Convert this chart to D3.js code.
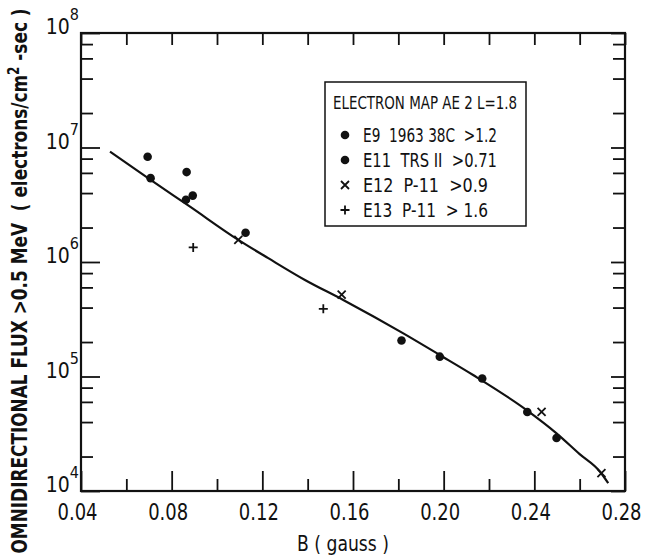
<!DOCTYPE html>
<html>
<head>
<meta charset="utf-8">
<script src="https://cdn.jsdelivr.net/npm/d3@7"></script>
<style>
  body { margin: 0; background: #fff; }
  svg { display: block; }
  text { font-family: "DejaVu Sans Condensed", "DejaVu Sans", sans-serif; font-stretch: condensed; fill: #111; }
</style>
</head>
<body>
<svg width="653" height="559"></svg>
<script>
// curve (B in gauss, flux)
const curveB = [0.0528, 0.0704, 0.0881, 0.1094, 0.1226, 0.1388, 0.1557, 0.1822, 0.1983, 0.2130, 0.2366, 0.2498, 0.2600, 0.2689, 0.2726];
const curveF = [9.2e6, 5.27e6, 3.04e6, 1.56e6, 1.08e6, 6.97e5, 4.66e5, 2.38e5, 1.54e5, 1.03e5, 5.09e4, 3.19e4, 2.1e4, 1.48e4, 1.17e4];

// E9 1963 38C >1.2 (dots)
const e9B = [0.0694, 0.0866, 0.0893, 0.1126, 0.1814];
const e9F = [8.3e6, 6.1e6, 3.8e6, 1.8e6, 2.06e5];
// E11 TRS II >0.71 (dots)
const e11B = [0.0707, 0.0863, 0.1983, 0.2170, 0.2369, 0.2498];
const e11F = [5.4e6, 3.5e6, 1.49e5, 9.6e4, 4.9e4, 2.9e4];
// E12 P-11 >0.9 (x)
const e12B = [0.1094, 0.1550, 0.2432, 0.2696];
const e12F = [1.56e6, 5.2e5, 4.9e4, 1.43e4];
// E13 P-11 >1.6 (+)
const e13B = [0.0895, 0.1469];
const e13F = [1.34e6, 3.9e5];

const xMajor = [0.04, 0.08, 0.12, 0.16, 0.20, 0.24, 0.28];
const xMinor = [0.06, 0.10, 0.14, 0.18, 0.22, 0.26];
const yMajor = [1e4, 1e5, 1e6, 1e7, 1e8];
const yMinor = [2e4, 4e4, 6e4, 8e4, 2e5, 4e5, 6e5, 8e5, 2e6, 4e6, 6e6, 8e6, 2e7, 4e7, 6e7, 8e7];

const legendTitle = "ELECTRON MAP AE 2 L=1.8";
const legendLabels = ["E9  1963 38C  >1.2", "E11  TRS II  >0.71", "E12  P-11  >0.9", "E13  P-11  > 1.6"];
const legendSymbols = ["dot", "dot", "x", "plus"];

const svg = d3.select("svg");
const margin = { top: 33, right: 28, bottom: 68, left: 81 };
const width = 653, height = 559;

const x = d3.scaleLinear().domain([0.04, 0.28]).range([margin.left, width - margin.right]);
const y = d3.scaleLog().domain([1e4, 1e8]).range([height - margin.bottom, margin.top]);

const x0 = x.range()[0], x1 = x.range()[1];
const y0 = y.range()[0], y1 = y.range()[1];

function tickAxis(axis, tx, ty) {
  const g = svg.append("g").attr("transform", `translate(${tx},${ty})`).call(axis);
  g.select(".domain").remove();
  g.selectAll(".tick line").attr("stroke", "#111").attr("stroke-width", 1.8);
  return g;
}

// inward ticks on all four sides
tickAxis(d3.axisBottom(x).tickValues(xMajor).tickSizeInner(-20).tickSizeOuter(0).tickFormat(""), 0, y0);
tickAxis(d3.axisBottom(x).tickValues(xMinor).tickSizeInner(-12).tickSizeOuter(0).tickFormat(""), 0, y0);
tickAxis(d3.axisTop(x).tickValues(xMajor).tickSizeInner(-12).tickSizeOuter(0).tickFormat(""), 0, y1);
tickAxis(d3.axisTop(x).tickValues(xMinor).tickSizeInner(-12).tickSizeOuter(0).tickFormat(""), 0, y1);
tickAxis(d3.axisLeft(y).tickValues(yMajor).tickSizeInner(-19).tickSizeOuter(0).tickFormat(""), x0, 0);
tickAxis(d3.axisLeft(y).tickValues(yMinor).tickSizeInner(-12).tickSizeOuter(0).tickFormat(""), x0, 0);
tickAxis(d3.axisRight(y).tickValues(yMajor).tickSizeInner(-14).tickSizeOuter(0).tickFormat(""), x1, 0);
tickAxis(d3.axisRight(y).tickValues(yMinor).tickSizeInner(-12).tickSizeOuter(0).tickFormat(""), x1, 0);

// frame
svg.append("rect")
  .attr("x", x0).attr("y", y1)
  .attr("width", x1 - x0).attr("height", y0 - y1)
  .attr("fill", "none").attr("stroke", "#111").attr("stroke-width", 2.2);

// x tick labels
const xl = d3.axisBottom(x).tickValues(xMajor).tickSize(0).tickPadding(13).tickFormat(d3.format(".2f"));
const gx = svg.append("g").attr("transform", `translate(0,${y0})`).call(xl);
gx.select(".domain").remove();
gx.selectAll("text")
  .attr("font-size", 23).attr("dx", -4)
  .attr("textLength", 40).attr("lengthAdjust", "spacingAndGlyphs")
  .style("font-family", '"DejaVu Sans Condensed", "DejaVu Sans", sans-serif')
  .attr("fill", "#111");

// y tick labels: one text each, exponent raised
yMajor.forEach(v => {
  const t = svg.append("text")
    .attr("x", x0 - 2)
    .attr("y", y(v) + 1)
    .attr("text-anchor", "end")
    .attr("font-size", 21);
  t.append("tspan").text("10");
  t.append("tspan").attr("dy", -14).attr("font-size", 16).text(Math.round(Math.log10(v)));
});

// fitted curve
const line = d3.line()
  .x(d => x(d[0]))
  .y(d => y(d[1]))
  .curve(d3.curveMonotoneX);

svg.append("path")
  .datum(curveB.map((b, i) => [b, curveF[i]]))
  .attr("d", line)
  .attr("fill", "none")
  .attr("stroke", "#111")
  .attr("stroke-width", 2.2);

// symbol drawers
function drawSymbol(g, kind, cx, cy) {
  if (kind === "dot") {
    g.append("circle").attr("cx", cx).attr("cy", cy).attr("r", 4.3).attr("fill", "#111");
  } else if (kind === "x") {
    const s = 4;
    g.append("path")
      .attr("d", `M${cx - s},${cy - s}L${cx + s},${cy + s}M${cx + s},${cy - s}L${cx - s},${cy + s}`)
      .attr("stroke", "#111").attr("stroke-width", 1.8);
  } else {
    const s = 4.5;
    g.append("path")
      .attr("d", `M${cx - s},${cy}L${cx + s},${cy}M${cx},${cy - s}L${cx},${cy + s}`)
      .attr("stroke", "#111").attr("stroke-width", 1.8);
  }
}

const pts = svg.append("g");
e9B.forEach((b, i) => drawSymbol(pts, "dot", x(b), y(e9F[i])));
e11B.forEach((b, i) => drawSymbol(pts, "dot", x(b), y(e11F[i])));
e12B.forEach((b, i) => drawSymbol(pts, "x", x(b), y(e12F[i])));
e13B.forEach((b, i) => drawSymbol(pts, "plus", x(b), y(e13F[i])));

// legend
const legendWidths = [134, 134, 125, 125];
const lg = svg.append("g").attr("transform", "translate(325,82)");
lg.append("rect")
  .attr("width", 201).attr("height", 144)
  .attr("fill", "#fff").attr("stroke", "#111").attr("stroke-width", 1.5);
lg.append("text").attr("x", 8).attr("y", 27).attr("font-size", 18)
  .attr("textLength", 184).attr("lengthAdjust", "spacingAndGlyphs")
  .text(legendTitle);
legendLabels.forEach((lab, i) => {
  const cy = 53 + i * 25;
  drawSymbol(lg, legendSymbols[i], 20, cy);
  lg.append("text").attr("x", 38).attr("y", cy + 7).attr("font-size", 19)
    .attr("xml:space", "preserve")
    .attr("textLength", legendWidths[i]).attr("lengthAdjust", "spacingAndGlyphs")
    .text(lab);
});

// axis titles
svg.append("text")
  .attr("x", (x0 + x1) / 2 - 10)
  .attr("y", 551)
  .attr("text-anchor", "middle")
  .attr("font-size", 21)
  .attr("textLength", 92).attr("lengthAdjust", "spacingAndGlyphs")
  .text("B ( gauss )");

const yt = svg.append("text")
  .attr("transform", "rotate(-90)")
  .attr("x", -281)
  .attr("y", 27)
  .attr("text-anchor", "middle")
  .attr("font-size", 21)
  .attr("font-weight", "bold")
  .attr("textLength", 545).attr("lengthAdjust", "spacingAndGlyphs")
  .attr("xml:space", "preserve");
yt.append("tspan").text("OMNIDIRECTIONAL FLUX >0.5 MeV  ( electrons/cm");
yt.append("tspan").attr("dy", -8).attr("font-size", 15).text("2");
yt.append("tspan").attr("dy", 8).text(" -sec )");
</script>
</body>
</html>
